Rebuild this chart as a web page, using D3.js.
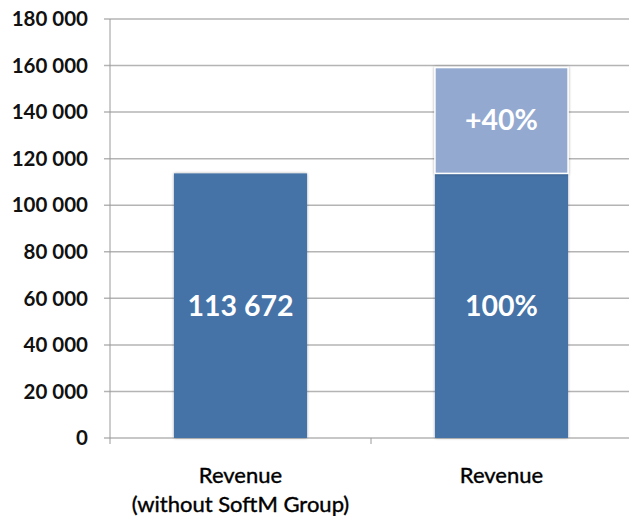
<!DOCTYPE html>
<html>
<head>
<meta charset="utf-8">
<script src="https://cdn.jsdelivr.net/npm/d3@7"></script>
<style>
  body { margin: 0; background: #fff; }
  text { font-family: Lato, "Open Sans", sans-serif; }
</style>
</head>
<body>
<div id="chart"></div>
<script>
// data
var categories = ["Revenue\n(without SoftM Group)", "Revenue"];
var baseValues = [113672, 113672];
var extraValues = [0, 113672 * 0.4];
var baseLabels = ["113 672", "100%"];
var extraLabels = ["", "+40%"];
var yTicks = [0, 20000, 40000, 60000, 80000, 100000, 120000, 140000, 160000, 180000];

var W = 629, H = 516;
var margin = {top: 19, right: -3, bottom: 78, left: 110},
    width = W - margin.left - margin.right,
    height = H - margin.top - margin.bottom;

var svg = d3.select("#chart")
  .append("svg")
    .attr("width", W)
    .attr("height", H)
  .append("g")
    .attr("transform", "translate(" + margin.left + "," + margin.top + ")");

var y = d3.scaleLinear().domain([0, 180000]).range([height, 0]);
var x = d3.scaleBand().domain(categories).range([0, width])
    .paddingInner(0.49).paddingOuter(0.245);
var step = x.step();

var fmt = function(d) { return d3.format(",")(d).replace(/,/g, " "); };

// gridlines
svg.append("g")
  .selectAll("line")
  .data(yTicks)
  .enter().append("line")
    .attr("x1", -6)
    .attr("x2", width)
    .attr("y1", function(d) { return y(d); })
    .attr("y2", function(d) { return y(d); })
    .style("stroke", "#b4b4b4")
    .style("stroke-width", 1.5);

// y axis line
svg.append("line")
  .attr("x1", 0).attr("x2", 0)
  .attr("y1", 0).attr("y2", height)
  .style("stroke", "#9a9a9a")
  .style("stroke-width", 1);

// x category ticks
svg.append("g")
  .selectAll("line")
  .data(d3.range(categories.length + 1))
  .enter().append("line")
    .attr("x1", function(i) { return i * step; })
    .attr("x2", function(i) { return i * step; })
    .attr("y1", height).attr("y2", height + 6)
    .style("stroke", "#9a9a9a");

// y tick labels
svg.append("g")
  .selectAll("text")
  .data(yTicks)
  .enter().append("text")
    .attr("x", -22)
    .attr("y", function(d) { return y(d); })
    .attr("dy", "0.35em")
    .attr("text-anchor", "end")
    .style("font-size", "20.5px")
    .style("font-weight", "bold")
    .style("fill", "#111")
    .text(function(d) { return d === 0 ? "0" : fmt(d); });

// shadow filter
var defs = d3.select("svg").append("defs");
var f = defs.append("filter").attr("id", "sh").attr("x", "-10%").attr("y", "-10%")
  .attr("width", "120%").attr("height", "120%");
f.append("feGaussianBlur").attr("in", "SourceAlpha").attr("stdDeviation", 1.5);
f.append("feComponentTransfer").append("feFuncA").attr("type", "linear").attr("slope", 0.35);
var fm = f.append("feMerge");
fm.append("feMergeNode");
fm.append("feMergeNode").attr("in", "SourceGraphic");

var bars = svg.append("g");

// base bars
bars.selectAll(".base")
  .data(categories)
  .enter().append("rect")
    .attr("class", "base")
    .attr("x", function(d) { return x(d); })
    .attr("width", x.bandwidth())
    .attr("y", function(d, i) { return y(baseValues[i]); })
    .attr("height", function(d, i) { return height - y(baseValues[i]); })
    .attr("filter", "url(#sh)")
    .style("fill", "#4572a7");

// extra segment
bars.selectAll(".extra")
  .data(categories)
  .enter().append("rect")
    .attr("class", "extra")
    .attr("x", function(d) { return x(d); })
    .attr("width", x.bandwidth())
    .attr("y", function(d, i) { return y(baseValues[i] + extraValues[i]); })
    .attr("height", function(d, i) { return y(baseValues[i]) - y(baseValues[i] + extraValues[i]); })
    .attr("filter", "url(#sh)")
    .style("fill", "#94a9cf")
    .style("stroke", "#fff")
    .style("stroke-width", 1.5);

// labels in bars
svg.append("g")
  .selectAll("text")
  .data(categories)
  .enter().append("text")
    .attr("x", function(d) { return x(d) + x.bandwidth() / 2; })
    .attr("y", function(d, i) { return y(baseValues[i] / 2); })
    .attr("dy", "0.35em")
    .attr("text-anchor", "middle")
    .style("font-size", "28.5px")
    .style("font-weight", "bold")
    .style("fill", "#fff")
    .text(function(d, i) { return baseLabels[i]; });

svg.append("g")
  .selectAll("text")
  .data(categories)
  .enter().append("text")
    .attr("x", function(d) { return x(d) + x.bandwidth() / 2; })
    .attr("y", function(d, i) { return y(baseValues[i] + extraValues[i] / 2); })
    .attr("dy", "0.35em")
    .attr("text-anchor", "middle")
    .style("font-size", "28.5px")
    .style("font-weight", "bold")
    .style("fill", "#fff")
    .text(function(d, i) { return extraLabels[i]; });

// category labels
var cat = svg.append("g")
  .selectAll("text")
  .data(categories)
  .enter().append("text")
    .attr("x", function(d) { return x(d) + x.bandwidth() / 2; })
    .attr("y", height + 45)
    .attr("text-anchor", "middle")
    .style("font-size", "22px")
    .style("fill", "#000")
    .style("stroke", "#000")
    .style("stroke-width", 0.4);
cat.selectAll("tspan")
  .data(function(d) { return d.split("\n"); })
  .enter().append("tspan")
    .attr("x", function() { var p = this.parentNode; return p.getAttribute("x"); })
    .attr("dy", function(d, i) { return i === 0 ? 0 : 29; })
    .text(function(d) { return d; });
</script>
</body>
</html>
